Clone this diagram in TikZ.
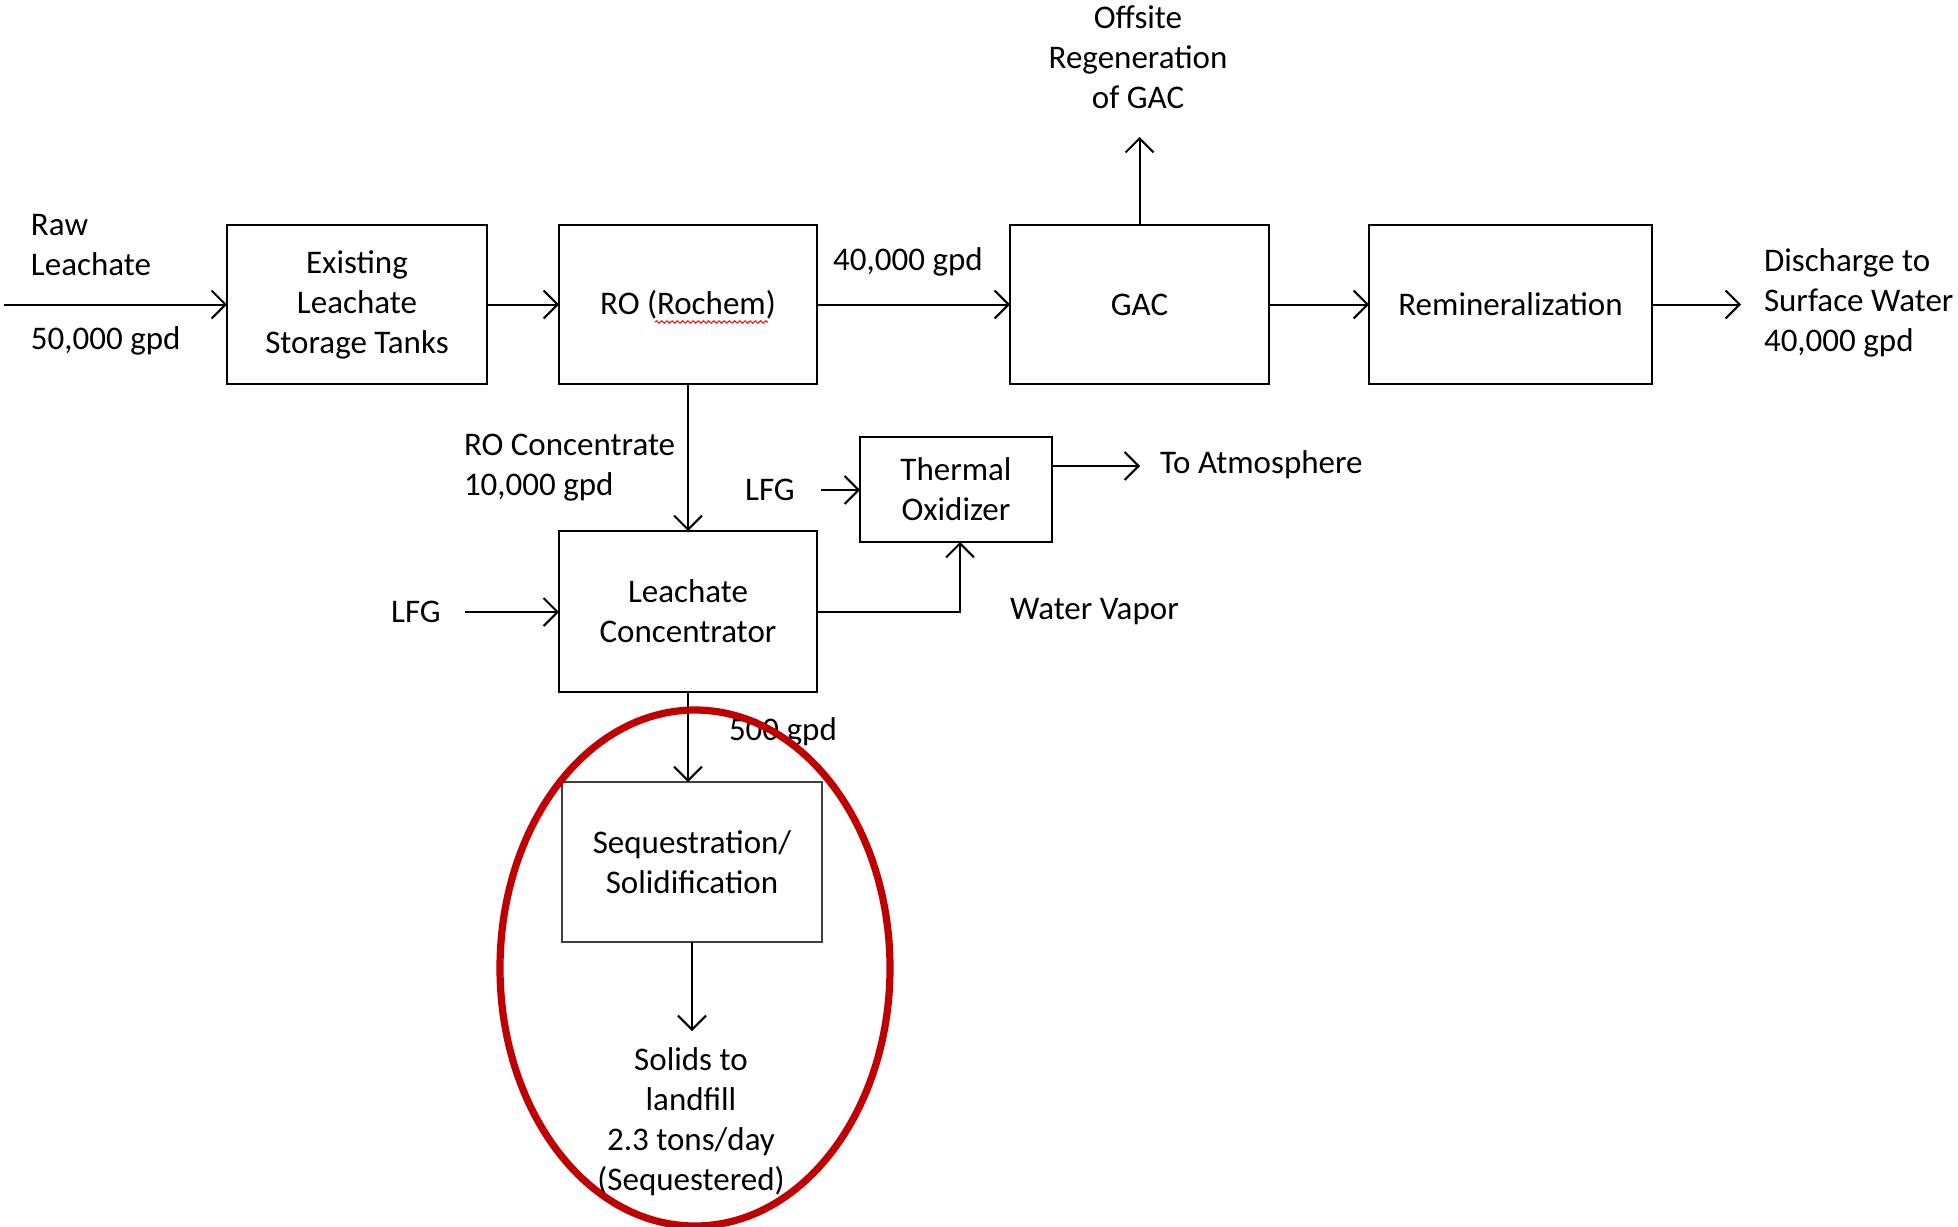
\documentclass[tikz,border=0pt]{standalone}
\usepackage{fontspec}
\setmainfont{Carlito}
\usetikzlibrary{arrows.meta,decorations.pathmorphing}
\definecolor{ovalred}{RGB}{192,0,0}
\begin{document}
\begin{tikzpicture}[x=0.5pt,y=-0.5pt,
  every node/.style={font=\fontsize{16.5}{20}\selectfont, inner sep=0pt, outer sep=0pt},
  box/.style={draw, line width=1pt, align=center},
  flow/.style={-{Straight Barb[length=7pt,width=14pt]}, line width=1pt},
  lbl/.style={align=left, anchor=west},
  clbl/.style={align=center},
]
\useasboundingbox (0,0) rectangle (1958,1226);

% boxes
\node[box, minimum width=130pt, minimum height=79.5pt] (tanks) at (357,304.5) {Existing\\Leachate\\Storage Tanks};
\node[box, minimum width=129pt, minimum height=79.5pt] (ro) at (688,304.5) {RO (Rochem)};
\node[box, minimum width=129.5pt, minimum height=79.5pt] (gac) at (1139.5,304.5) {GAC};
\node[box, minimum width=141.5pt, minimum height=79.5pt] (remin) at (1510.5,304.5) {Remineralization};
\node[box, minimum width=96pt, minimum height=52.5pt] (tox) at (956,489.5) {Thermal\\Oxidizer};
\node[box, minimum width=129pt, minimum height=80.5pt] (lc) at (688,611.5) {Leachate\\Concentrator};
\node[box, draw=black!75, line width=0.8pt, minimum width=130pt, minimum height=80pt] (seq) at (692,862) {Sequestration/\\Solidification};

% text labels
\node[lbl] (raw) at (31,245.5) {Raw\\Leachate};
\node[lbl] (rawq) at (31,341) {50,000 gpd};
\node[clbl] (roq) at (908,262) {40,000 gpd};
\node[clbl] (offsite) at (1138,57) {Offsite\\Regeneration\\of GAC};
\node[lbl] (disch) at (1764,303) {Discharge to\\Surface Water\\40,000 gpd};
\node[lbl] (roconc) at (464,467.5) {RO Concentrate\\10,000 gpd};
\node[clbl] (lfgtop) at (770,490) {LFG};
\node[lbl] (atmtext) at (1160,465) {To Atmosphere};
\node[clbl] (lfgbot) at (416,612) {LFG};
\node[lbl] (vapor) at (1010,612) {Water Vapor};
\node[lbl] (q500) at (729,732) {500 gpd};
\node[clbl] (solids) at (691,1122) {Solids to\\landfill\\2.3 tons/day\\(Sequestered)};

% free ends
\coordinate (rawin) at (4,304.5);
\coordinate (gacup) at (1139.5,137);
\coordinate (dischend) at (1741,304.5);
\coordinate (atm) at (1140,466);
\coordinate (lfgtopstart) at (821,490);
\coordinate (lfgbotstart) at (465,612);
\coordinate (solidsend) at (692,1031);
\coordinate (vaporup) at (960,542);

% connectors
\draw[flow] (rawin) -- (tanks.west);
\draw[flow] (tanks.east) -- (ro.west);
\draw[flow] (ro.east) -- (gac.west);
\draw[flow] (gac.north) -- (gacup);
\draw[flow] (gac.east) -- (remin.west);
\draw[flow] (remin.east) -- (dischend);
\draw[flow] (ro.south) -- (lc.north);
\draw[flow] (lfgtopstart) -- (lfgtopstart -| tox.west);
\draw[flow] (atm -| tox.east) -- (atm);
\draw[flow] (lfgbotstart) -- (lfgbotstart -| lc.west);
\draw[flow] (lc.east) -| (vaporup |- tox.south);
\draw[flow] (lc.south) -- (lc.south |- seq.north);
\draw[flow] (seq.south) -- (solidsend);

% spell-check underline
\draw[red, line width=0.5pt, decorate, decoration={snake, segment length=2.6pt, amplitude=0.6pt}] (655,322) -- (768,322);

% red oval
\draw[ovalred, line width=3.6pt] (695,968) ellipse [x radius=97.5pt, y radius=129pt];
\end{tikzpicture}
\end{document}
